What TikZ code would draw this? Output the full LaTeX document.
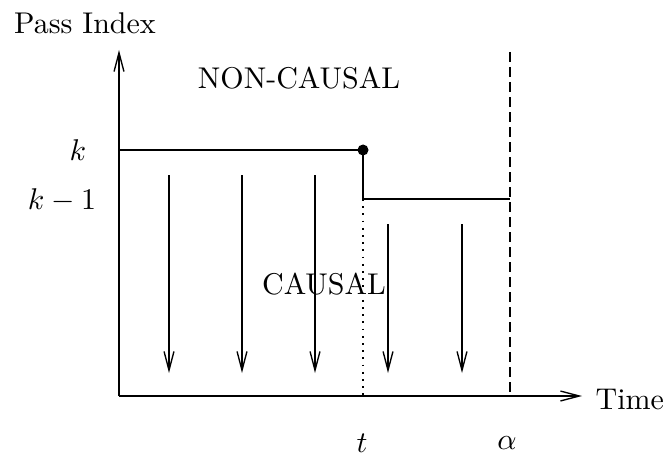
\documentclass[tikz,border=0pt]{standalone}
\usetikzlibrary{arrows.meta}
\begin{document}
\begin{tikzpicture}[x=0.3333pt,y=-0.3333pt,
  axis/.style={line width=0.45pt,-{Straight Barb[length=6.3pt,width=3.3pt,line width=0.45pt]}},
  flow/.style={line width=0.45pt,-{Straight Barb[length=6.3pt,width=3.3pt,line width=0.45pt]}},
  pass/.style={line width=0.9pt},
  lbl/.style={inner sep=0pt,font=\fontsize{10}{12}\selectfont}]
\useasboundingbox (0,0) rectangle (665,454);
% coordinates
\coordinate (O) at (119,396);
\coordinate (ytop) at (119,50);
\coordinate (xend) at (582,396);
\coordinate (kstart) at (119,150);
\coordinate (kend) at (363,150);
\coordinate (kdrop) at (363,199);
\coordinate (kmend) at (510,199);
\coordinate (dtop) at (510,52);
\coordinate (dbot) at (510,396);
\coordinate (tbot) at (363,396);
% axes
\draw[axis] (O) -- (ytop);
\draw[axis] (O) -- (xend);
% pass lines
\draw[pass] (kstart) -- (kend) -- (kdrop) -- (kmend);
\fill (kend) circle (5.5);
\draw[line width=0.5pt,dash pattern=on 3.2pt off 1.8pt] (dtop) -- (dbot);
\draw[line width=0.6pt,dash pattern=on 0.6pt off 1.8pt] (kdrop) -- (tbot);
% flow arrows
\foreach \i/\x/\y in {1/169/175,2/242/175,3/315/175,4/388/224,5/462/224}{
  \coordinate (a\i s) at (\x,\y);
  \coordinate (a\i e) at (\x,373);
  \draw[flow] (a\i s) -- (a\i e);
}
% labels
\node[lbl] (pass) at (85,23) {Pass Index};
\node[lbl] (klab) at (78,150) {$k$};
\node[lbl] (km1) at (62,200) {$k-1$};
\node[lbl] (noncausal) at (299,78) {NON-CAUSAL};
\node[lbl] (causal) at (324,284) {CAUSAL};
\node[lbl,anchor=west] (time) at (595,400) {Time};
\node[lbl] (tlab) at (362,443) {$t$};
\node[lbl] (alab) at (507,443) {$\alpha$};
\end{tikzpicture}
\end{document}
